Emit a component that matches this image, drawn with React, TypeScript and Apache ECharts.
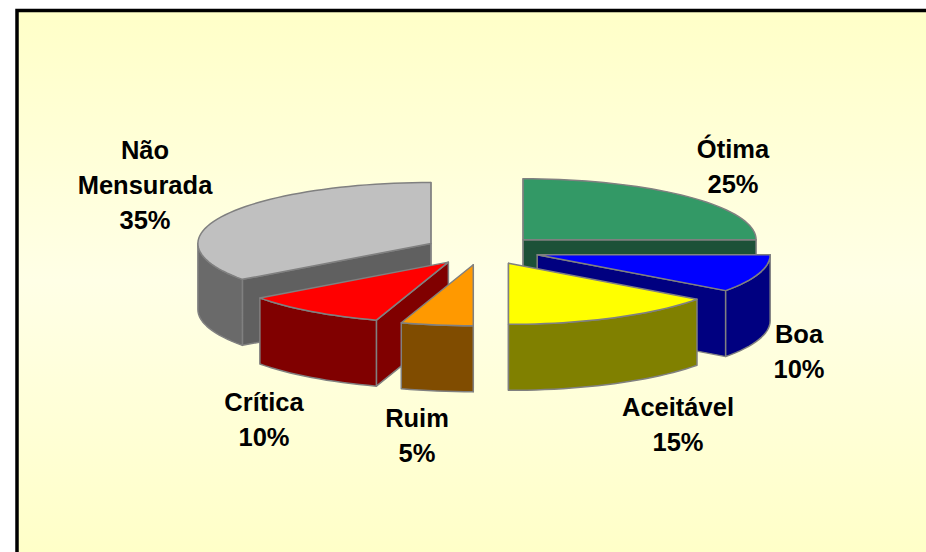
import React, { useEffect, useRef } from "react";
import * as echarts from "echarts";

// Slices, clockwise from the back of the pie
const names = ["Ótima", "Boa", "Aceitável", "Ruim", "Crítica", "Não\nMensurada"];
const values = [25, 10, 15, 5, 10, 35];
const topColors = ["#339966", "#0000FF", "#FFFF00", "#FF9900", "#FF0000", "#C0C0C0"];
const faceColors = ["#1C5138", "#000080", "#808000", "#804C00", "#800000", "#606060"];
const wallColors = ["#1C5138", "#000080", "#808000", "#804C00", "#800000", "#6A6A6A"];
// Back-to-front painting order (indices into the arrays above)
const paintOrder = [0, 5, 1, 4, 3, 2];
// Label centres
const labelX = [733, 799, 678, 417, 264, 145];
const labelY = [166, 351, 424, 435, 419, 185];

const CX = 482.3, CY = 250.2, RX = 233, RY = 61, DEPTH = 66, EX = 57.7, EY = 14.75;
const total = values.reduce((a, b) => a + b, 0);
const starts: number[] = [];
values.reduce((acc, v, i) => {
  starts[i] = acc;
  return acc + v;
}, 0);
const toAngle = (v: number) => (v / total) * Math.PI * 2;

function renderSlice(params: any, api: any) {
  const idx = api.value(1) as number;
  const a0 = toAngle(starts[idx]);
  const a1 = a0 + toAngle(api.value(0) as number);
  const mid = (a0 + a1) / 2;
  const ax = CX + EX * Math.sin(mid);
  const ay = CY - EY * Math.cos(mid);
  const rim = (a: number, d = 0): number[] => [ax + RX * Math.sin(a), ay - RY * Math.cos(a) + d];
  const arc = (from: number, to: number, d = 0): number[][] => {
    const n = Math.max(2, Math.ceil((to - from) / 0.04));
    const out: number[][] = [];
    for (let i = 0; i <= n; i++) out.push(rim(from + ((to - from) * i) / n, d));
    return out;
  };
  const line = { stroke: "#808080", lineWidth: 1.5, lineJoin: "round" };
  const poly = (points: number[][], fill: string) => ({
    type: "polygon",
    shape: { points },
    style: { fill, ...line },
  });
  const face = (a: number) =>
    poly([[ax, ay], rim(a), rim(a, DEPTH), [ax, ay + DEPTH]], faceColors[idx]);

  // Only the radial faces that look towards the viewer (or are edge-on) are drawn
  const children: any[] = [];
  if (Math.sin(a0) < 1e-6) children.push(face(a0));
  if (Math.sin(a1) > -1e-6) children.push(face(a1));
  const w0 = Math.max(a0, Math.PI / 2);
  const w1 = Math.min(a1, (Math.PI * 3) / 2);
  if (w1 > w0) {
    children.push(poly([...arc(w0, w1), ...arc(w0, w1, DEPTH).reverse()], wallColors[idx]));
  }
  children.push(poly([[ax, ay], ...arc(a0, a1)], topColors[idx]));
  children.push({
    type: "text",
    x: labelX[idx],
    y: labelY[idx],
    z2: 50,
    style: {
      text: `${names[idx]}\n${values[idx]}%`,
      fill: "#000000",
      font: 'bold 25.5px "Liberation Sans", Arial, sans-serif',
      lineHeight: 35,
      align: "center",
      verticalAlign: "middle",
    },
  });
  return { type: "group", children };
}

export default function App() {
  const ref = useRef<HTMLDivElement>(null);
  useEffect(() => {
    document.body.style.margin = "0";
    const chart = echarts.init(ref.current!, undefined, { renderer: "svg" });
    chart.setOption({
      animation: false,
      backgroundColor: "#FFFFFF",
      graphic: [
        {
          type: "rect",
          z: -10,
          silent: true,
          shape: { x: 17, y: 10.5, width: 1000, height: 700 },
          style: {
            stroke: "#000000",
            lineWidth: 3.5,
            fill: {
              type: "linear",
              global: true,
              x: 0,
              y: 10,
              x2: 0,
              y2: 552,
              colorStops: [
                { offset: 0, color: "#FFFFC8" },
                { offset: 0.5, color: "#FFFFE6" },
                { offset: 1, color: "#FFFFC8" },
              ],
            },
          },
        },
      ],
      series: [
        {
          type: "custom",
          coordinateSystem: "none",
          silent: true,
          clip: false,
          renderItem: renderSlice,
          data: paintOrder.map((i) => [values[i], i]),
        },
      ],
    });
    return () => chart.dispose();
  }, []);
  return <div ref={ref} style={{ width: 926, height: 552 }} />;
}
